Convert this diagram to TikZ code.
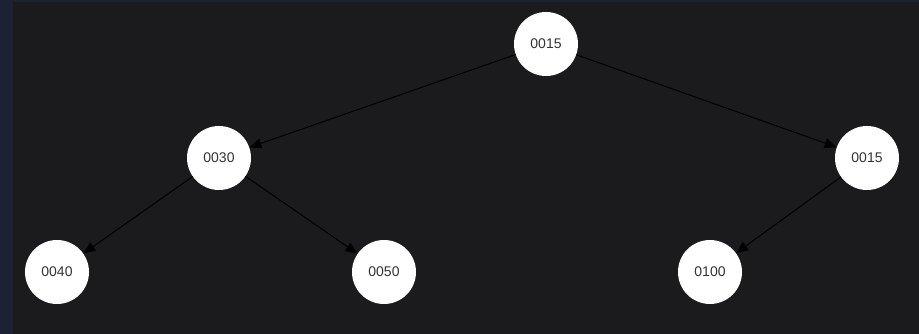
\documentclass[tikz,border=0pt]{standalone}
\usepackage{fontspec}
\setmainfont{Liberation Sans}
\usetikzlibrary{arrows.meta}
\definecolor{bgmain}{HTML}{1B1B1D}
\definecolor{bgside}{HTML}{1C2231}
\definecolor{txt}{HTML}{333333}
\tikzset{
  treenode/.style={circle, fill=white, draw=none, minimum size=64pt, inner sep=0pt,
    text=txt, font=\fontsize{14}{16}\selectfont},
  edge/.style={draw=black, line width=1pt, -{Triangle[length=12pt,width=10pt]}}
}
\begin{document}
\begin{tikzpicture}[x=1pt,y=-1pt]
\fill[bgside] (0,0) rectangle (919,334);
\fill[bgmain] (13,2) rectangle (919,334);
\useasboundingbox (0,0) rectangle (919,334);
\node[treenode] (r) at (546,44) {0015};
\node[treenode] (a) at (219,158) {0030};
\node[treenode] (b) at (867,158) {0015};
\node[treenode] (c) at (57,272) {0040};
\node[treenode] (d) at (384,272) {0050};
\node[treenode] (e) at (710,272) {0100};
\draw[edge] (r) -- (a);
\draw[edge] (r) -- (b);
\draw[edge] (a) -- (c);
\draw[edge] (a) -- (d);
\draw[edge] (b) -- (e);
\end{tikzpicture}
\end{document}
